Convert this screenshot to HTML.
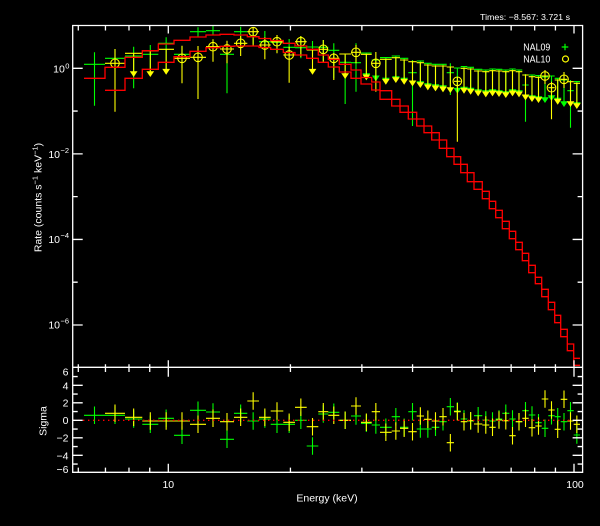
<!DOCTYPE html>
<html><head><meta charset="utf-8">
<style>
html,body{margin:0;padding:0;background:#000;width:600px;height:526px;overflow:hidden;}
svg{display:block;}
text{font-family:"Liberation Sans",sans-serif;fill:#fff;}
</style></head>
<body>
<svg id="s" width="600" height="526" viewBox="0 0 600 526" xmlns="http://www.w3.org/2000/svg">
<rect width="600" height="526" fill="#000"/>
<g id="data"></g>
<g id="axes"></g>
<!-- top text -->
<text x="480" y="20" font-size="8.5" textLength="90" lengthAdjust="spacingAndGlyphs">Times: −8.567: 3.721 s</text>
<!-- legend -->
<text x="523.3" y="50.7" font-size="10.5" textLength="27" lengthAdjust="spacingAndGlyphs">NAL09</text>
<text x="523.3" y="62.3" font-size="10.5" textLength="27" lengthAdjust="spacingAndGlyphs">NAL10</text>
<path d="M561.7 47H568.3M565 43.7V50.3" stroke="#00ff00" stroke-width="1.2" fill="none"/>
<circle cx="565.5" cy="59" r="3" stroke="#ffff00" stroke-width="1.2" fill="none"/>
<!-- main y labels -->
<text x="64.8" y="72.7" font-size="10.5" text-anchor="end">10</text>
<text x="65.3" y="68.3" font-size="7.5">0</text>
<text x="60" y="158" font-size="10.5" text-anchor="end">10</text>
<text x="60.5" y="153.2" font-size="7.5">−2</text>
<text x="60" y="243" font-size="10.5" text-anchor="end">10</text>
<text x="60.5" y="238.2" font-size="7.5">−4</text>
<text x="60" y="328.5" font-size="10.5" text-anchor="end">10</text>
<text x="60.5" y="323.7" font-size="7.5">−6</text>
<!-- residual y labels -->
<text x="68.5" y="375.5" font-size="10.5" text-anchor="end">6</text>
<text x="68.5" y="389.5" font-size="10.5" text-anchor="end">4</text>
<text x="68.5" y="406.3" font-size="10.5" text-anchor="end">2</text>
<text x="68.5" y="424" font-size="10.5" text-anchor="end">0</text>
<text x="68.5" y="441.7" font-size="10.5" text-anchor="end">−2</text>
<text x="68.5" y="459.5" font-size="10.5" text-anchor="end">−4</text>
<text x="68.5" y="472.8" font-size="10.5" text-anchor="end">−6</text>
<!-- x labels -->
<text x="168.3" y="488" font-size="10.5" text-anchor="middle">10</text>
<text x="575" y="488" font-size="10.5" text-anchor="middle">100</text>
<text x="327" y="501.7" font-size="10.5" text-anchor="middle">Energy (keV)</text>
<!-- axis titles -->
<text transform="translate(41.5,197.5) rotate(-90)" font-size="10.5" text-anchor="middle">Rate (counts s<tspan dy="-4" font-size="7.5">−1</tspan><tspan dy="4"> keV</tspan><tspan dy="-4" font-size="7.5">−1</tspan><tspan dy="4">)</tspan></text>
<text transform="translate(46.5,421) rotate(-90)" font-size="10.5" text-anchor="middle">Sigma</text>
</svg>
<script>
(function(){
const NS='http://www.w3.org/2000/svg';
const g=document.getElementById('data');
const ax=document.getElementById('axes');
function el(tag,attrs,parent){const e=document.createElementNS(NS,tag);for(const k in attrs)e.setAttribute(k,attrs[k]);parent.appendChild(e);return e;}
const E=[84,105,125,142.3,158.3,174,190,206,220,234,247.3,259,270.7,283.3,295,306.7,318.3,328.3,339.3,351,361,371.7,380,391.7,400,408.3,416.7,424,431.7,439.3,446.7,454,460.7,467.3,474,482.3,489.3,495.7,502.3,509.3,515.7,522.3,528.7,535.3,541.7,548.3,554.7,560.7,567.3,573.7,580];
const UP=[78.3,67.3,57.3,50.7,44,40.3,37,35,34.3,35,36.7,38.5,40.5,43.3,46,49.3,55,59.3,64.3,70,77.5,82,90.7,99.3,106,112.3,119,126,132.7,140,148.3,156.7,164.3,172.7,181.7,191.3,201.3,210.3,221.3,231.3,242.3,253.3,265.3,277.3,289.3,302.3,315.3,329.3,344,358.3];
const LO=[null,90.3,78.3,69.3,62.3,56.7,51.3,47.7,46.3,46,46,47.5,49.3,52.5,55,58.3,62.3,67,72,78.3,84,90,99.3,106,112.3,119,126,132.7,140,148.3,156.7,164.3,172.7,181.7,189.3,198.7,208.7,217.7,228.7,238.7,249.7,260.7,272.7,283.7,296.7,309.7,322.7,336.7,350.7,365.3];
const G=[['p',64.3,52.3,105.7],['p',58.3,49,70],['p',56,46.7,88.3],['p',54.3,45,71.7],['p',43.3,37.3,70],['p',54.3,46,68],['p',31.7,27.3,37.3],['p',30.7,26,35],['p',54.3,46.7,93.3],['p',31.7,26.7,45],
['p',36.7,31,44],['p',41.7,31,46.7],['p',42.3,37,52],['p',47.3,39,55],['p',47.7,36,58.3],['p',47,41,56],['p',47.3,40,61.7],['p',50.3,43.3,78.3],['p',62.3,55,104],['p',62.7,43.3,91.7],
['u',53,76],['u',60,78.3],['u',57.6,80.5],['u',56,79],['u',58.3,80.5],['p',72.7,60,126],['u',61,84],['u',63.3,86],['u',64.3,87],['u',64.3,88],
['p',72.7,63.3,95],['u',68,90.7],['u',66.6,89.5],['u',67.3,90.5],['u',69.3,92],['u',70,93],['u',69,92],['u',69.3,93],['u',70,94],['u',69,92],
['u',70,93],['p',85,74,121.7],['u',75,98],['u',75.6,99],['u',77,100],['u',76,98],['u',78.3,100.5],['u',80,104],['p',90.7,80,127.7],['u',81.6,105]];
const Y=[null,['p',63.3,49,111.7],['u',53.3,74],['u',51,74],['u',49.3,71.7],['p',58.3,45.7,83.3],['p',57.3,46,99],['p',46.7,39.3,61.7],['p',49,40.7,63.3],['p',43.3,36,56],
['p',31.7,27.3,45.7],['p',45,37.3,59.3],['p',41.7,35,53.3],['p',55,46.7,82.7],['p',41.7,36,56.7],['u',50,71.7],['p',49.3,40,61.7],['p',58.3,53,80],['u',54,76],['p',52.3,45,63.3],
['u',54.3,77.3],['p',63.3,52,91.7],['u',59.3,81.7],['u',57.7,80],['u',60,81.7],['u',61.7,83.3],['u',62.7,85],['u',65,87.3],['u',66,88.3],['u',66,89.3],
['u',67,90],['p',81.3,77.3,141.7],['u',68.3,90.7],['u',69,91.7],['u',71,93.3],['u',71.7,94.3],['u',70.7,93.3],['u',71,94],['u',71.7,95],['u',70.7,93.3],
['u',71.7,94.3],['u',75,97.3],['u',76.7,99],['u',77.3,100],['p',76,70,84],['p',87.7,81.7,119.3],['u',80,101.7],['p',79.3,72,88],['u',81.7,104],['u',83.3,106]];
const RG=[415.3,415.3,419,424.3,418.3,435.3,410.3,412,439.3,413.3,421,419,424.3,424.3,420.3,446,414,412.3,420.3,416,423.3,425,427.3,416.7,427.3,411.7,429,429,427.3,421.7,406.7,411,419,421,415.7,420,421,419,413.3,419,421.7,410.7,415,422.7,428.3,415.7,416.7,421.7,410.7,435];
const RY=[null,413.3,417.3,421,421,421,424.3,418.3,421.7,417.3,401,417.3,411,422.3,407.3,426.7,411.7,415.3,420.3,406,422.3,411.7,432.3,431,428.3,431.7,416,419.3,421,416.7,442.7,411.7,421.7,420.7,424,425,427.3,420,420.7,435.7,421.7,418.3,427.7,426,399,410,429.3,399.3,421,424.3];

function drawData(data,color,circ){
  let d='',tri='';const cs=[];
  data.forEach((p,i)=>{if(!p)return;const x0=E[i],x1=E[i+1],xc=(x0+x1)/2;
    if(p[0]==='p'){d+='M'+x0+' '+p[1]+'H'+x1+'M'+xc+' '+p[2]+'V'+p[3];if(circ)cs.push([xc,p[1]]);}
    else{const a=p[2];d+='M'+x0+' '+p[1]+'H'+x1+'M'+xc+' '+p[1]+'V'+(a-2);tri+='M'+(xc-3.3)+' '+(a-2.5)+'H'+(xc+3.3)+'L'+xc+' '+(a+2.5)+'Z';}
  });
  el('path',{d:d,stroke:color,'stroke-width':1.1,fill:'none'},g);
  if(tri)el('path',{d:tri,fill:color,stroke:color,'stroke-width':0.6},g);
  cs.forEach(c=>el('circle',{cx:c[0],cy:c[1],r:4.3,stroke:color,'stroke-width':1.1,fill:'none'},g));
}
drawData(G,'#00ff00',false);
drawData(Y,'#ffff00',true);
// red models
function stair(arr,start){let d='M'+E[start]+' '+arr[start];for(let i=start;i<arr.length;i++){if(i>start)d+='V'+arr[i];d+='H'+E[i+1];}return d;}
el('path',{d:stair(UP,0)+stair(LO,1),stroke:'#ff0000','stroke-width':1.3,fill:'none'},g);
// residuals
function res(arr,color){let d='';arr.forEach((y,i)=>{if(y==null)return;const x0=E[i],x1=E[i+1],xc=(x0+x1)/2;d+='M'+x0+' '+y+'H'+x1+'M'+xc+' '+(y-8.75)+'V'+(y+8.75);});el('path',{d:d,stroke:color,'stroke-width':1.1,fill:'none'},g);}
res(RG,'#00ff00');res(RY,'#ffff00');
el('path',{d:'M73 420.3H582',stroke:'#ff0000','stroke-width':1.4,'stroke-dasharray':'1.4 3.6',fill:'none'},g);
// axes
let t='M72.7 25.5H582.6V472.3H72.7ZM72.7 367.3H582.6';
[6,7,8,9,10,20,30,40,50,60,70,80,90,100].forEach(v=>{const x=168.3+405.7*Math.log10(v/10);const M=(v===10||v===100);
 t+='M'+x+' 25.5v'+(M?8:5)+'M'+x+' 367.3v'+(M?-7:-3)+'M'+x+' 367.3v'+(M?9.5:4.7)+'M'+x+' 472.3v'+(M?-8.5:-4.7);});
for(let d=-6;d<=0;d++){const y=68.3-42.78*d;const L=(d%2===0)?10:5;t+='M72.7 '+y+'h'+L+'M582.6 '+y+'h'+(-L);}
for(let v=-5;v<=5;v++){const y=420.3-8.75*v;const L=(v%2===0)?10:5;t+='M72.7 '+y+'h'+L+'M582.6 '+y+'h'+(-L);}
el('path',{d:t,stroke:'#fff','stroke-width':1.3,fill:'none'},ax);
})();
</script>
</body></html>
